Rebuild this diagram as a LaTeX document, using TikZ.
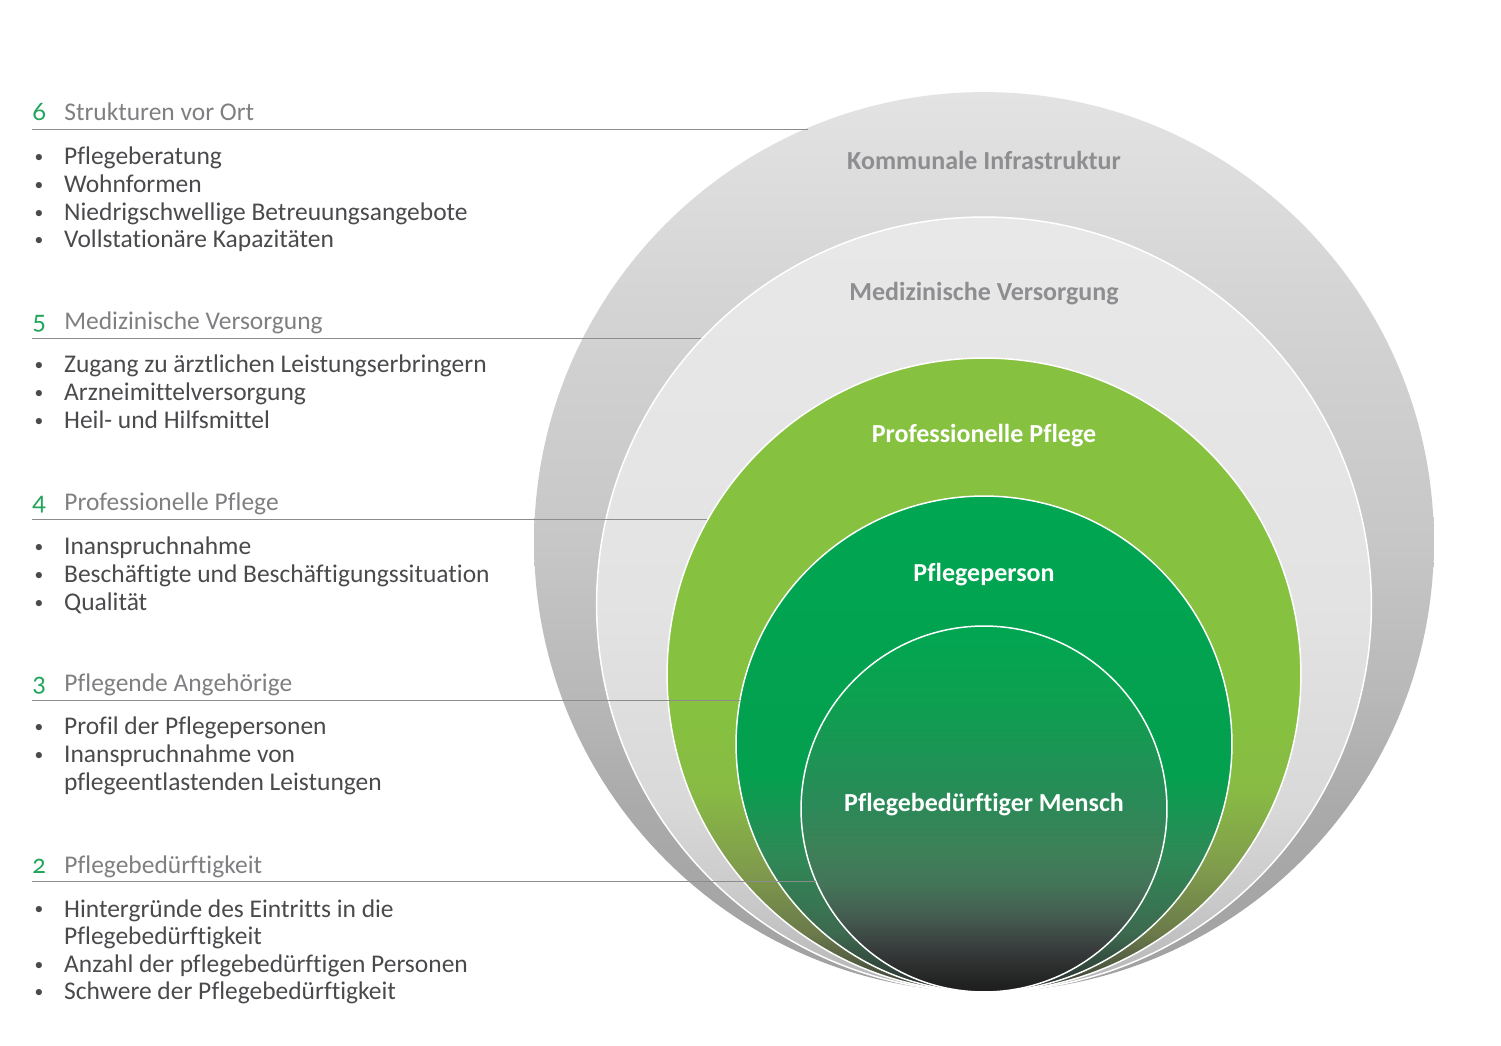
\documentclass[tikz,border=0pt]{standalone}
\usepackage{fontspec}
\setmainfont{Carlito}[Ligatures=NoCommon]
\newfontfamily\ziffern{Lato}[Numbers=OldStyle]
\newcommand\schrift{\fontsize{14.5}{15.7}\selectfont}
\newcommand\pkt{\makebox[18.1pt][l]{\hspace{1.3pt}\raisebox{1.2pt}{\fontsize{10}{10}\selectfont\textbullet}}}

\definecolor{zahlgruen}{HTML}{22A55B}
\definecolor{titelgrau}{HTML}{7F7F82}
\definecolor{textgrau}{HTML}{4A4A4D}
\definecolor{liniengrau}{HTML}{8C8C8E}
\definecolor{ringtext}{HTML}{8E8E91}

% Farbverlaeufe der Ringe (25bp = unten, 75bp = oben)
\pgfdeclareverticalshading{grauaussen}{100bp}{color(0bp)=(black!37!white); color(25bp)=(black!37!white);
  color(35.7bp)=(black!33!white); color(41.2bp)=(black!28!white); color(50bp)=(black!22!white);
  color(63bp)=(black!17!white); color(75bp)=(black!11!white); color(100bp)=(black!11!white)}
\pgfdeclareverticalshading{grauinnen}{100bp}{color(0bp)=(black!29!white); color(25bp)=(black!29!white);
  color(31bp)=(black!21!white); color(37bp)=(black!15!white); color(50bp)=(black!11!white);
  color(75bp)=(black!9!white); color(100bp)=(black!9!white)}
\pgfdeclareverticalshading{hellgruen}{100bp}{color(0bp)=(rgb,255:red,58;green,62;blue,56); color(25bp)=(rgb,255:red,58;green,62;blue,56);
  color(29.6bp)=(rgb,255:red,106;green,122;blue,74); color(34.8bp)=(rgb,255:red,128;green,156;blue,76);
  color(41bp)=(rgb,255:red,136;green,187;blue,68); color(47bp)=(rgb,255:red,134;green,193;blue,63);
  color(75bp)=(rgb,255:red,134;green,193;blue,63); color(100bp)=(rgb,255:red,134;green,193;blue,63)}
\pgfdeclareverticalshading{gruen}{100bp}{color(0bp)=(rgb,255:red,42;green,45;blue,44); color(25bp)=(rgb,255:red,42;green,45;blue,44);
  color(31bp)=(rgb,255:red,61;green,106;blue,80); color(39bp)=(rgb,255:red,46;green,138;blue,86);
  color(47bp)=(rgb,255:red,3;green,160;blue,79); color(75bp)=(rgb,255:red,0;green,166;blue,81);
  color(100bp)=(rgb,255:red,0;green,166;blue,81)}
\pgfdeclareverticalshading{dunkelgruen}{100bp}{color(0bp)=(rgb,255:red,30;green,30;blue,30); color(25bp)=(rgb,255:red,30;green,30;blue,30);
  color(26.4bp)=(rgb,255:red,34;green,34;blue,34); color(30.9bp)=(rgb,255:red,56;green,60;blue,60);
  color(35.4bp)=(rgb,255:red,68;green,92;blue,80); color(40bp)=(rgb,255:red,67;green,118;blue,89);
  color(44.5bp)=(rgb,255:red,61;green,128;blue,88); color(51bp)=(rgb,255:red,42;green,138;blue,88);
  color(65bp)=(rgb,255:red,12;green,160;blue,80); color(75bp)=(rgb,255:red,0;green,166;blue,81);
  color(100bp)=(rgb,255:red,0;green,166;blue,81)}

\begin{document}
\begin{tikzpicture}[x=0.02cm, y=0.02cm, line cap=round, font=\schrift,
  kreis/.style={circle, inner sep=0pt, outer sep=0pt},
  rand/.style={draw=white, line width=0.85pt},
  zahl/.style={anchor=base west, inner sep=0pt, text=zahlgruen, font=\schrift\ziffern},
  titel/.style={anchor=base west, inner sep=0pt, text=titelgrau},
  liste/.style={anchor=base west, inner sep=0pt, text=textgrau},
  linie/.style={draw=liniengrau, line width=0.8pt, line cap=butt},
  ringschrift/.style={anchor=base, inner sep=0pt, font=\fontsize{14.8}{16}\selectfont\bfseries}]
  \useasboundingbox (0,0) rectangle (1501,1045);

  % Kreise, unten alle im selben Punkt
  \node[kreis, minimum size=18cm, shading=grauaussen] (c1) at (984,503) {};
  \node[kreis, rand, minimum size=15.5cm, shading=grauinnen] (c2) at (984,440.5) {};
  \node[kreis, rand, minimum size=12.68cm, shading=hellgruen] (c3) at (984,370) {};
  \node[kreis, rand, minimum size=9.92cm, shading=gruen] (c4) at (984,301) {};
  \node[kreis, rand, minimum size=7.32cm, shading=dunkelgruen] (c5) at (984,236) {};

  \node[ringschrift, text=ringtext] (k1) at (984,875) {Kommunale Infrastruktur};
  \node[ringschrift, text=ringtext] (k2) at (984,744) {Medizinische Versorgung};
  \node[ringschrift, text=white] (k3) at (984,602) {Professionelle Pflege};
  \node[ringschrift, text=white] (k4) at (984,463) {Pflegeperson};
  \node[ringschrift, text=white] (k5) at (984,233) {Pflegebedürftiger Mensch};

  % Ueberschriften und Linien
  \foreach \n/\y/\titeltext/\kr/\w in {6/924/Strukturen vor Ort/c1/113,
      5/715/Medizinische Versorgung/c2/137, 4/534/Professionelle Pflege/c3/151,
      3/353/Pflegende Angehörige/c4/170, 2/172/Pflegebedürftigkeit/c5/203}{
    \node[zahl] (n\n) at (32,\y) {\n};
    \node[titel] (t\n) at (64,\y) {\titeltext};
    \coordinate (l\n) at (32,\y-8.5);
    \draw[linie] (l\n) -- (l\n -| \kr.\w);
  }

  % Listen
  \node[liste] (p6) at (32,880) {\begin{tabular}[t]{@{}l@{}l@{}}
    \pkt & Pflegeberatung\\
    \pkt & Wohnformen\\
    \pkt & Niedrigschwellige Betreuungsangebote\\
    \pkt & Vollstationäre Kapazitäten\end{tabular}};
  \node[liste] (p5) at (32,672) {\begin{tabular}[t]{@{}l@{}l@{}}
    \pkt & Zugang zu ärztlichen Leistungserbringern\\
    \pkt & Arzneimittelversorgung\\
    \pkt & Heil- und Hilfsmittel\end{tabular}};
  \node[liste] (p4) at (32,490) {\begin{tabular}[t]{@{}l@{}l@{}}
    \pkt & Inanspruchnahme\\
    \pkt & Beschäftigte und Beschäftigungssituation\\
    \pkt & Qualität\end{tabular}};
  \node[liste] (p3) at (32,310) {\begin{tabular}[t]{@{}l@{}l@{}}
    \pkt & Profil der Pflegepersonen\\
    \pkt & Inanspruchnahme von\\
         & pflegeentlastenden Leistungen\end{tabular}};
  \node[liste] (p2) at (32,128) {\begin{tabular}[t]{@{}l@{}l@{}}
    \pkt & Hintergründe des Eintritts in die\\
         & Pflegebedürftigkeit\\
    \pkt & Anzahl der pflegebedürftigen Personen\\
    \pkt & Schwere der Pflegebedürftigkeit\end{tabular}};
\end{tikzpicture}
\end{document}
